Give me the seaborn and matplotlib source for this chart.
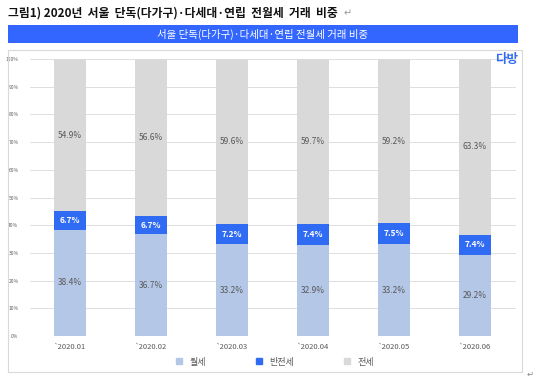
import matplotlib.pyplot as plt
import matplotlib.patches as mpatches
from matplotlib.lines import Line2D
import seaborn as sns
import pandas as pd

months = ['`2020.01', '`2020.02', '`2020.03', '`2020.04', '`2020.05', '`2020.06']
wolse = [38.4, 36.7, 33.2, 32.9, 33.2, 29.2]      # 월세
banjeonse = [6.7, 6.7, 7.2, 7.4, 7.5, 7.4]        # 반전세
jeonse = [54.9, 56.6, 59.6, 59.7, 59.2, 63.3]     # 전세

c_wol = '#B4C7E7'
c_ban = '#2F6BF3'
c_jeon = '#D9D9D9'

sns.set_style('white')
plt.rcParams['font.family'] = ['Noto Sans CJK KR', 'DejaVu Sans']

df = pd.DataFrame({'month': months, 'wolse': wolse, 'ban': banjeonse, 'jeon': jeonse})
df['top'] = df['wolse'] + df['ban'] + df['jeon']
df['mid'] = df['wolse'] + df['ban']

fig = plt.figure(figsize=(5.4, 3.81), dpi=100)

# outer frame and banner
fig.patches.append(mpatches.Rectangle((8 / 540, 1 - 372 / 381), 514 / 540, 322 / 381,
                                      transform=fig.transFigure, fill=False,
                                      edgecolor='#D9D9D9', linewidth=0.8))
fig.patches.append(mpatches.Rectangle((8 / 540, 1 - 43 / 381), 510 / 540, 18 / 381,
                                      transform=fig.transFigure, facecolor='#3366FF',
                                      edgecolor='none'))
fig.text(8 / 540, 1 - 13 / 381, '그림1) 2020년  서울  단독(다가구)·다세대·연립  전월세  거래  비중',
         fontsize=8.5, fontweight='bold', va='center', ha='left', color='#111111')
fig.text(344 / 540, 1 - 13 / 381, '↵', fontsize=7, va='center', color='#999999',
         family=['DejaVu Sans'])
fig.text(263 / 540, 1 - 34 / 381, '서울 단독(다가구)·다세대·연립 전월세 거래 비중',
         fontsize=7.5, color='white', ha='center', va='center')
fig.text(518 / 540, 1 - 59 / 381, '다방', fontsize=9, fontweight='bold', color='#2F6BF3',
         ha='right', va='center')
fig.text(530 / 540, 1 - 374 / 381, '↵', fontsize=6, va='center', ha='center',
         color='#888888', family=['DejaVu Sans'])

ax = fig.add_axes([29.5 / 540, 1 - 336 / 381, 486 / 540, 277 / 381])
sns.barplot(data=df, x='month', y='top', color=c_jeon, width=0.4, saturation=1, ax=ax,
            zorder=2, linewidth=0)
sns.barplot(data=df, x='month', y='mid', color=c_ban, width=0.4, saturation=1, ax=ax,
            zorder=3, linewidth=0)
sns.barplot(data=df, x='month', y='wolse', color=c_wol, width=0.4, saturation=1, ax=ax,
            zorder=4, linewidth=0)

for i, row in df.iterrows():
    ax.text(i, row['wolse'] / 2, f"{row['wolse']:.1f}%", ha='center', va='center',
            fontsize=6, color='#595959', zorder=5)
    ax.text(i, row['wolse'] + row['ban'] / 2, f"{row['ban']:.1f}%", ha='center', va='center',
            fontsize=6, color='white', fontweight='bold', zorder=5)
    ax.text(i, row['mid'] + row['jeon'] / 2, f"{row['jeon']:.1f}%", ha='center', va='center',
            fontsize=6, color='#595959', zorder=5)

ax.set_ylim(0, 100)
ax.set_xlim(-0.5, 5.5)
ax.set_yticks(range(0, 101, 10))
ax.set_yticklabels([f'{v}%' for v in range(0, 101, 10)], fontsize=3.5, color='#595959')
ax.yaxis.grid(True, color='#D9D9D9', linewidth=0.6, zorder=0)
ax.set_axisbelow(True)
ax.tick_params(axis='x', labelsize=5.5, colors='#595959', length=0, pad=5)
ax.tick_params(axis='y', length=0, pad=8)
ax.set_xlabel('')
ax.set_ylabel('')
for s in ax.spines.values():
    s.set_visible(False)
ax.patch.set_alpha(0)

handles = [Line2D([], [], marker='s', linestyle='', markersize=4, color=c, label=l)
           for c, l in [(c_wol, '월세'), (c_ban, '반전세'), (c_jeon, '전세')]]
fig.legend(handles=handles, loc='center', bbox_to_anchor=(272 / 540, 1 - 362 / 381), ncol=3,
           frameon=False, fontsize=6.5, columnspacing=4.8, handletextpad=0.2,
           labelcolor='#595959')

fig.savefig('out.png', dpi=100)
